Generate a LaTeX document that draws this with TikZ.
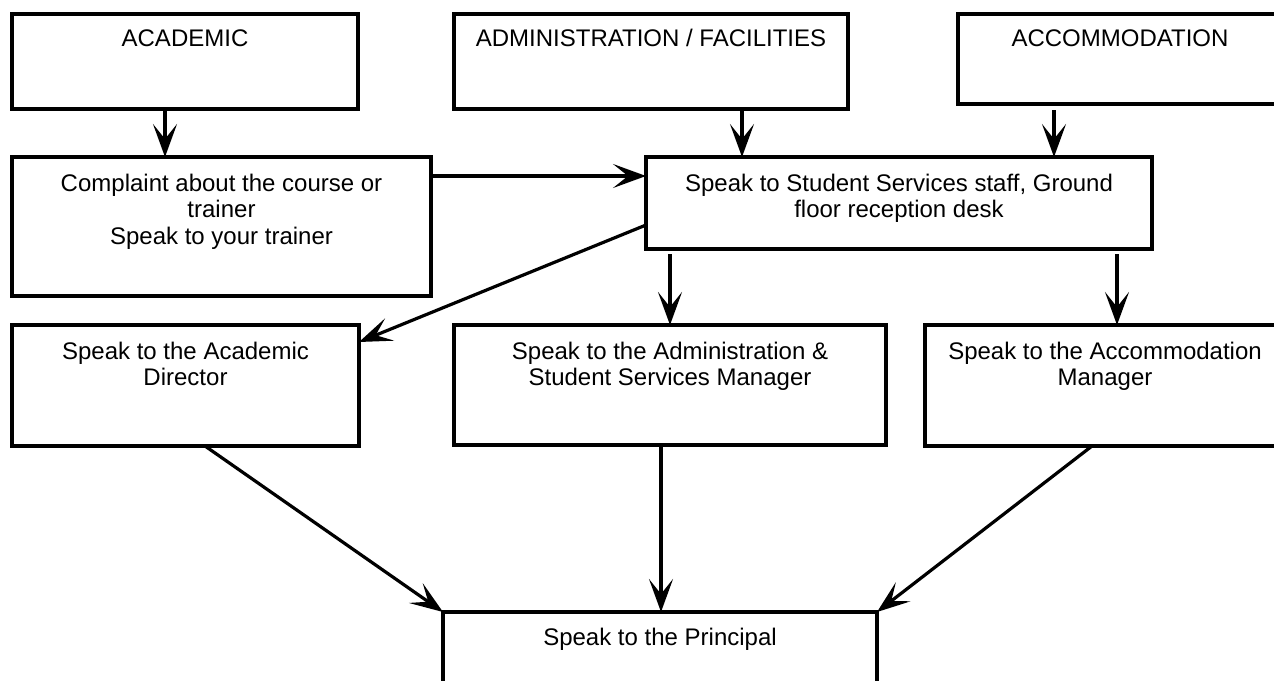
\documentclass[tikz,border=0pt]{standalone}
\usepackage{fontspec}
\setmainfont{Liberation Sans}
\usetikzlibrary{arrows.meta}
\tikzset{
  box/.style={draw=black, line width=3.6pt, inner sep=0pt, outer sep=0pt, rectangle, fill=white},
  txt/.style={font=\fontsize{24}{26.5}\selectfont, align=center, inner sep=0pt, anchor=north, execute at begin node=\strut},
  arr/.style={line width=3.2pt, -{Stealth[length=33pt, width=24pt, inset=15pt]}}
}
\begin{document}
\begin{tikzpicture}[x=1pt, y=-1pt]
\useasboundingbox (0,0) rectangle (1274,680);
\clip (0,0) rectangle (1274,680);
\fill[white] (0,0) rectangle (1274,680);
% boxes
\node[box, minimum width=346pt, minimum height=95pt]  (acad)  at (185,61.5) {};
\node[box, minimum width=394pt, minimum height=95pt]  (admin) at (651,61.5) {};
\node[box, minimum width=324pt, minimum height=90pt]  (accom) at (1120,59) {};
\node[box, minimum width=419pt, minimum height=139pt] (compl) at (221.5,226.5) {};
\node[box, minimum width=506pt, minimum height=92pt]  (ss)    at (899,203) {};
\node[box, minimum width=347pt, minimum height=121pt] (ad)    at (185.5,385.5) {};
\node[box, minimum width=432pt, minimum height=120pt] (am)    at (670,385) {};
\node[box, minimum width=360pt, minimum height=121pt] (acm)   at (1105,385.5) {};
\node[box, minimum width=434pt, minimum height=108pt] (pr)    at (660,666) {};
% texts
\node[txt] (acadt)  at ([yshift=-13.5pt]acad.north)  {ACADEMIC};
\node[txt] (admint) at ([yshift=-13.5pt]admin.north) {ADMINISTRATION / FACILITIES};
\node[txt] (accomt) at ([yshift=-13.5pt]accom.north) {ACCOMMODATION};
\node[txt] (complt) at ([yshift=-16.5pt]compl.north) {Complaint about the course or\\trainer\\Speak to your trainer};
\node[txt] (sst)    at ([yshift=-16.5pt]ss.north)    {Speak to Student Services staff, Ground\\floor reception desk};
\node[txt] (adt)    at ([yshift=-16.5pt]ad.north)    {Speak to the Academic\\Director};
\node[txt] (amt)    at ([yshift=-16.5pt]am.north)    {Speak to the Administration \&\\Student Services Manager};
\node[txt] (acmt)   at ([yshift=-16.5pt]acm.north)   {Speak to the Accommodation\\Manager};
\node[txt] (prt)    at ([yshift=-14.5pt]pr.north)    {Speak to the Principal};
% connectors
\draw[arr] ([xshift=-20pt,yshift=-2pt]acad.south) -- ([xshift=-56.5pt]compl.north);
\draw[arr] ([xshift=91pt,yshift=-1pt]admin.south) -- ([xshift=-157pt]ss.north);
\draw[arr] ([xshift=-66pt,yshift=-6pt]accom.south) -- ([xshift=155pt]ss.north);
\draw[arr] ([yshift=-19pt]compl.north east) -- ([yshift=-19pt]ss.north west);
\draw[arr] ([yshift=-68pt]ss.north west) -- ([yshift=-17pt]ad.north east);
\draw[arr] ([xshift=-229pt,yshift=-5pt]ss.south) -- (am.north);
\draw[arr] ([xshift=218pt,yshift=-5pt]ss.south) -- ([xshift=12pt]acm.north);
\draw[arr] ([xshift=19.5pt]ad.south) -- (pr.north west);
\draw[arr] ([xshift=-9pt]am.south) -- ([xshift=1pt]pr.north);
\draw[arr] ([xshift=-13pt]acm.south) -- (pr.north east);
\end{tikzpicture}
\end{document}
